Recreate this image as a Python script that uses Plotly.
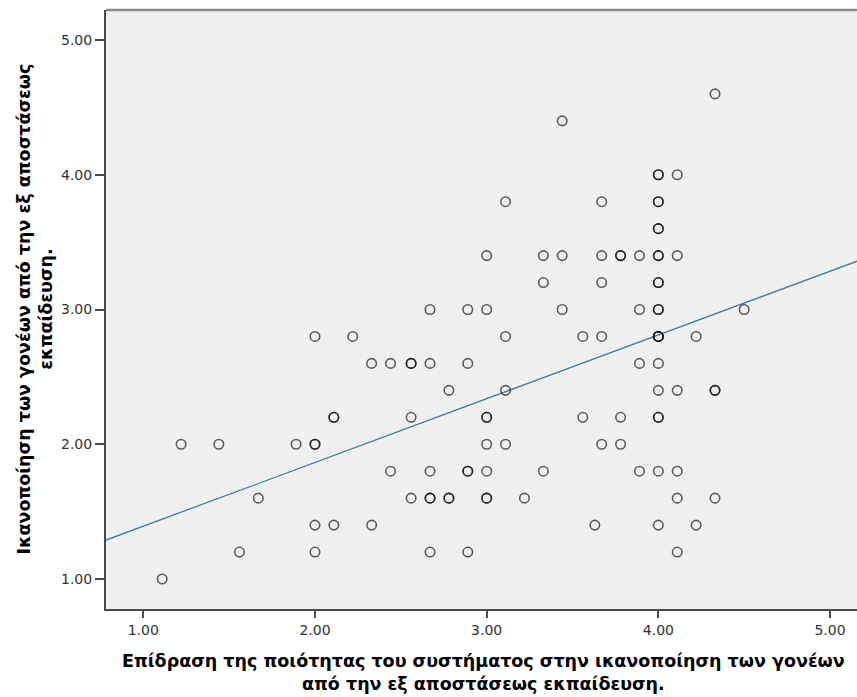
import plotly.graph_objects as go

# ---- data (duplicates = darker, overlapping markers) ----
x_vals = [
    4.33,
    3.44,
    4.00, 4.00, 4.11,
    3.11, 3.67, 4.00, 4.00,
    4.00, 4.00,
    3.00, 3.33, 3.44, 3.67, 3.78, 3.78, 3.89, 4.00, 4.00, 4.11,
    3.33, 3.67, 4.00, 4.00,
    2.67, 2.89, 3.00, 3.44, 3.89, 4.00, 4.00, 4.50,
    2.00, 2.22, 3.11, 3.56, 3.67, 4.00, 4.00, 4.00, 4.22,
    2.33, 2.44, 2.56, 2.56, 2.67, 2.89, 3.89, 4.00,
    2.78, 3.11, 4.00, 4.11, 4.33, 4.33,
    2.11, 2.11, 2.56, 3.00, 3.00, 3.56, 3.78, 4.00, 4.00,
    1.22, 1.44, 1.89, 2.00, 2.00, 3.00, 3.11, 3.67, 3.78,
    2.44, 2.67, 2.89, 2.89, 3.00, 3.33, 3.89, 4.00, 4.11,
    1.67, 2.56, 2.67, 2.67, 2.78, 2.78, 3.00, 3.00, 3.22, 4.11, 4.33,
    2.00, 2.11, 2.33, 3.63, 4.00, 4.22,
    1.56, 2.00, 2.67, 2.89, 4.11,
    1.11,
]
y_vals = (
    [4.6] * 1
    + [4.4] * 1
    + [4.0] * 3
    + [3.8] * 4
    + [3.6] * 2
    + [3.4] * 10
    + [3.2] * 4
    + [3.0] * 8
    + [2.8] * 9
    + [2.6] * 8
    + [2.4] * 6
    + [2.2] * 9
    + [2.0] * 9
    + [1.8] * 9
    + [1.6] * 11
    + [1.4] * 6
    + [1.2] * 5
    + [1.0] * 1
)

# fit line
fit_intercept = 0.919
fit_slope = 0.473

x_range = [0.7828, 5.157]
y_range = [0.7774, 5.2226]
tick_vals = [1, 2, 3, 4, 5]
tick_text = ["1.00", "2.00", "3.00", "4.00", "5.00"]

x_title = ("Επίδραση της ποιότητας του συστήματος στην ικανοποίηση των γονέων"
           "<br>από την εξ αποστάσεως εκπαίδευση.")
y_title = "Ικανοποίηση των γονέων από την εξ αποστάσεως<br>εκπαίδευση."

fig = go.Figure()

fit_x = x_range
fit_y = [fit_intercept + fit_slope * v for v in fit_x]
fig.add_trace(go.Scatter(
    x=fit_x, y=fit_y, mode="lines",
    line=dict(color="#3f7f98", width=1.3),
    hoverinfo="skip", showlegend=False,
))

fig.add_trace(go.Scatter(
    x=x_vals, y=y_vals, mode="markers",
    marker=dict(symbol="circle-open", size=9.5,
                line=dict(color="rgba(0,0,0,0.62)", width=1.6),
                color="rgba(0,0,0,0.62)"),
    showlegend=False,
))

tick_font = dict(family="DejaVu Sans", size=14, color="#333333")
title_font = dict(family="DejaVu Sans", size=17.5, color="#000000", weight="bold")

fig.update_layout(
    width=857, height=697,
    margin=dict(l=106, r=0, t=10, b=88),
    paper_bgcolor="white",
    plot_bgcolor="#f0f0f0",
    xaxis=dict(range=x_range, tickvals=tick_vals, ticktext=tick_text,
               showgrid=False, zeroline=False, showline=True,
               linecolor="#4a4a4a", linewidth=2,
               ticks="outside", ticklen=7, tickwidth=1.6, tickcolor="#4a4a4a",
               tickfont=tick_font),
    yaxis=dict(range=y_range, tickvals=tick_vals, ticktext=tick_text,
               showgrid=False, zeroline=False, showline=True,
               linecolor="#4a4a4a", linewidth=2,
               ticks="outside", ticklen=9, tickwidth=1.6, tickcolor="#4a4a4a",
               tickfont=tick_font),
    shapes=[dict(type="line", xref="paper", yref="paper", x0=0, x1=1, y0=1, y1=1,
                 line=dict(color="#8a8a8a", width=2.5))],
    annotations=[
        dict(text=x_title, xref="paper", yref="paper", x=0.503, y=0,
             xanchor="center", yanchor="top", yshift=-40, showarrow=False,
             font=title_font, align="center"),
        dict(text=y_title, xref="paper", yref="paper", x=0, y=0.5,
             xanchor="center", yanchor="middle", xshift=-71, showarrow=False,
             textangle=-90, font=title_font, align="center"),
    ],
)

fig.write_html("out.html")
